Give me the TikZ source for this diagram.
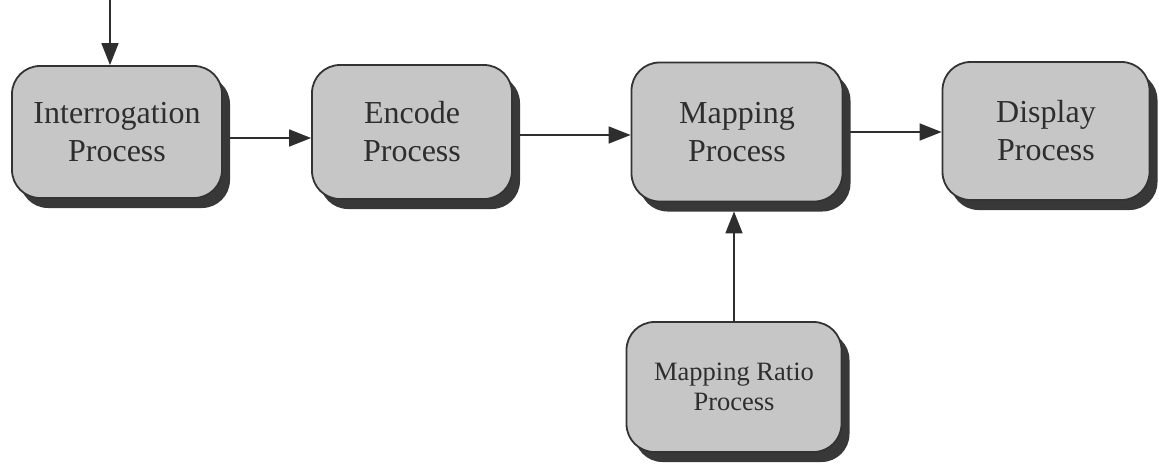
\documentclass[tikz,border=0pt]{standalone}
\usepackage{fontspec}
\setmainfont{Liberation Serif}
\usetikzlibrary{arrows.meta,shadows,backgrounds,calc}
\definecolor{boxfill}{HTML}{C6C6C6}
\definecolor{boxedge}{HTML}{333333}
\definecolor{shade}{HTML}{383838}
\definecolor{ink}{HTML}{2E2E2E}
\tikzset{
  procbox/.style={draw=boxedge, line width=1.8pt, fill=boxfill, rounded corners=28pt,
    align=center, text=ink, inner sep=0pt,
    drop shadow={shadow xshift=8pt, shadow yshift=-10pt, fill=shade, opacity=1}},
  bigtext/.style={font=\fontsize{32}{38}\selectfont},
  smalltext/.style={font=\fontsize{26.5}{30}\selectfont},
  flow/.style={draw=ink, line width=1.6pt, -{Triangle[length=22pt,width=17pt]}}
}
\begin{document}
\begin{tikzpicture}[x=1pt,y=-1pt]
\useasboundingbox (0,0) rectangle (1159,467);
\node[procbox, bigtext, minimum width=210pt, minimum height=132pt] (interr) at (117,132) {Interrogation\\Process};
\node[procbox, bigtext, minimum width=200pt, minimum height=134pt] (encode) at (412,132) {Encode\\Process};
\node[procbox, bigtext, minimum width=211pt, minimum height=139pt] (mapping) at (737,132) {Mapping\\Process};
\node[procbox, bigtext, minimum width=207pt, minimum height=138pt] (display) at (1046,131) {Display\\Process};
\node[procbox, smalltext, minimum width=215pt, minimum height=130pt] (ratio) at (734,387) {Mapping Ratio\\Process};
\coordinate (input) at (110,0);
\begin{scope}[on background layer]
  \draw[flow] (input) -- (input |- interr.north);
  \draw[flow] ($(interr.east)+(0,6)$) -- ($(encode.west)+(0,6)$);
  \draw[flow] ($(encode.east)+(0,3)$) -- ($(mapping.west)+(0,3)$);
  \draw[flow] (mapping.east) -- ($(display.west)+(0,1)$);
  \draw[flow] (ratio.north) -- ($(ratio.north |- mapping.south)+(0,9)$);
\end{scope}
\end{tikzpicture}
\end{document}
